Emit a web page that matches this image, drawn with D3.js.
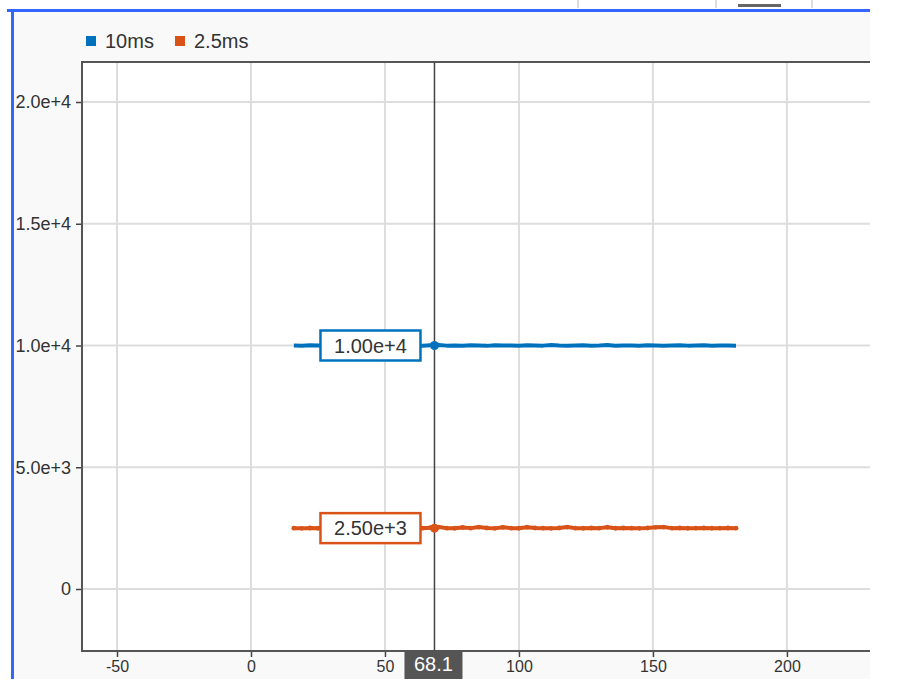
<!DOCTYPE html>
<html>
<head>
<meta charset="utf-8">
<script src="https://cdn.jsdelivr.net/npm/d3@7"></script>
<style>
  body { margin: 0; background: #fff; }
  text { font-family: "Liberation Sans", Arial, sans-serif; }
</style>
</head>
<body>
<div id="chart"></div>
<script>
// sample times (x) shared by both traces
const times = [16, 19, 22, 25, 28, 31, 34, 37, 40, 43, 46, 49, 52, 55, 58, 61, 64, 67, 70, 73,
  76, 79, 82, 85, 88, 91, 94, 97, 100, 103, 106, 109, 112, 115, 118, 121, 124, 127, 130, 133,
  136, 139, 142, 145, 148, 151, 154, 157, 160, 163, 166, 169, 172, 175, 178, 181];

const blueValues = [10000, 9995, 10010, 10005, 9990, 10030, 10000, 9985, 10005, 10010, 9995, 10000,
  10015, 9990, 10005, 10000, 9995, 10010, 10020, 9995, 10005, 9990, 10010, 10000, 9985, 10015,
  10000, 10005, 9990, 10010, 10000, 9995, 10020, 10000, 9990, 10005, 10010, 9995, 10000, 10025,
  9990, 10005, 10000, 9995, 10010, 10000, 9985, 10005, 10015, 9995, 10000, 10010, 9990, 10005,
  10000, 9995];

const orangeValues = [2500, 2490, 2505, 2495, 2510, 2540, 2500, 2495, 2505, 2490, 2500, 2510,
  2495, 2500, 2505, 2490, 2500, 2520, 2545, 2500, 2495, 2530, 2500, 2545, 2505, 2490, 2535,
  2500, 2495, 2540, 2505, 2500, 2490, 2505, 2545, 2500, 2495, 2505, 2500, 2540, 2495, 2505,
  2500, 2490, 2505, 2535, 2545, 2500, 2505, 2495, 2500, 2505, 2495, 2500, 2505, 2500];

const seriesNames = ["10ms", "2.5ms"];
const seriesColors = ["#0072bd", "#d95319"];
const xTicks = [-50, 0, 50, 100, 150, 200];
const yTicks = [0, 5000, 10000, 15000, 20000];
const yTickLabels = ["0", "5.0e+3", "1.0e+4", "1.5e+4", "2.0e+4"];
const cursorX = 68.1;
const cursorLabels = ["1.00e+4", "2.50e+3"];
const cursorValues = [10000, 2500];

const W = 909, H = 694;
const plot = { left: 82, right: 870, top: 62, bottom: 651 };

const svg = d3.select("#chart").append("svg")
  .attr("width", W)
  .attr("height", H);

// bits of the surrounding UI above the panel
svg.selectAll(".topTick")
  .data([578, 716, 812])
  .enter().append("line")
  .attr("x1", d => d).attr("x2", d => d)
  .attr("y1", 0).attr("y2", 8)
  .attr("stroke", "#bbb").attr("stroke-width", 1);
svg.append("rect")
  .attr("x", 738).attr("y", 4).attr("width", 43).attr("height", 3)
  .attr("fill", "#666");

// panel background and blue frame
svg.append("rect")
  .attr("x", 12).attr("y", 10).attr("width", 858).attr("height", 669)
  .attr("fill", "#f9f9f9");
svg.append("rect")
  .attr("x", 7).attr("y", 9).attr("width", 863).attr("height", 3)
  .attr("fill", "#3366ff");
svg.append("rect")
  .attr("x", 11).attr("y", 9).attr("width", 3).attr("height", 670)
  .attr("fill", "#3366ff");

const x = d3.scaleLinear()
  .domain([-63.06, 231])
  .range([plot.left, plot.right]);

const y = d3.scaleLinear()
  .domain([-2546, 21643])
  .range([plot.bottom, plot.top]);

// plot area
svg.append("rect")
  .attr("x", plot.left).attr("y", plot.top)
  .attr("width", plot.right - plot.left).attr("height", plot.bottom - plot.top)
  .attr("fill", "#fff");

// grid
svg.selectAll(".vgrid")
  .data(xTicks)
  .enter().append("line")
  .attr("x1", d => x(d)).attr("x2", d => x(d))
  .attr("y1", plot.top).attr("y2", plot.bottom)
  .attr("stroke", "#ddd").attr("stroke-width", 2);
svg.selectAll(".hgrid")
  .data(yTicks)
  .enter().append("line")
  .attr("x1", plot.left).attr("x2", plot.right)
  .attr("y1", d => y(d)).attr("y2", d => y(d))
  .attr("stroke", "#ddd").attr("stroke-width", 2);

// axes
const xAxis = svg.append("g")
  .attr("transform", `translate(0,${plot.bottom})`)
  .call(d3.axisBottom(x).tickValues(xTicks).tickSize(6).tickPadding(4).tickFormat(d => d));
const yAxis = svg.append("g")
  .attr("transform", `translate(${plot.left},0)`)
  .call(d3.axisLeft(y).tickValues(yTicks).tickSize(6).tickPadding(5)
    .tickFormat((d, i) => yTickLabels[i]));

[xAxis, yAxis].forEach(g => {
  g.select(".domain").remove();
  g.selectAll(".tick line").attr("stroke", "#444").attr("stroke-width", 1.5);
  g.selectAll(".tick text")
    .attr("fill", "#333")
    .style("font-family", "'Liberation Sans', Arial, sans-serif");
});
xAxis.selectAll(".tick text").style("font-size", "16px");
yAxis.selectAll(".tick text").style("font-size", "18px");

// frame of the plot (right side is cut off)
svg.append("path")
  .attr("d", `M${plot.right},${plot.top}H${plot.left}V${plot.bottom}H${plot.right}`)
  .attr("fill", "none")
  .attr("stroke", "#555")
  .attr("stroke-width", 2);

// traces
const allValues = [blueValues, orangeValues];
const line = d3.line()
  .x((d, i) => x(times[i]))
  .y(d => y(d));

allValues.forEach((vals, s) => {
  svg.append("path")
    .datum(vals)
    .attr("d", line)
    .attr("fill", "none")
    .attr("stroke", seriesColors[s])
    .attr("stroke-width", 4)
    .attr("stroke-linejoin", "round");
});

svg.selectAll(".orangeDot")
  .data(orangeValues)
  .enter().append("circle")
  .attr("cx", (d, i) => x(times[i]))
  .attr("cy", d => y(d))
  .attr("r", 2.4)
  .attr("fill", seriesColors[1]);

// cursor
const cx = x(cursorX) + 1;
svg.append("line")
  .attr("x1", cx).attr("x2", cx)
  .attr("y1", plot.top).attr("y2", plot.bottom)
  .attr("stroke", "#444").attr("stroke-width", 1.5);

cursorValues.forEach((v, s) => {
  svg.append("circle")
    .attr("cx", cx).attr("cy", y(v)).attr("r", 4.5)
    .attr("fill", seriesColors[s]);
  svg.append("rect")
    .attr("x", cx - 114).attr("y", y(v) - 15)
    .attr("width", 100).attr("height", 30)
    .attr("fill", "#fff")
    .attr("stroke", seriesColors[s])
    .attr("stroke-width", 2.5);
  svg.append("text")
    .attr("x", cx - 64).attr("y", y(v) + 7)
    .attr("text-anchor", "middle")
    .attr("fill", "#333")
    .style("font-size", "20px")
    .text(cursorLabels[s]);
});

svg.append("rect")
  .attr("x", cx - 30).attr("y", plot.bottom + 1)
  .attr("width", 58).attr("height", 27)
  .attr("fill", "#555");
svg.append("text")
  .attr("x", cx - 1).attr("y", plot.bottom + 20)
  .attr("text-anchor", "middle")
  .attr("fill", "#fff")
  .style("font-size", "20px")
  .text(cursorX.toFixed(1));

// legend
const legend = svg.selectAll(".legend")
  .data(seriesNames)
  .enter().append("g")
  .attr("transform", (d, i) => `translate(${86 + i * 89},36)`);
legend.append("rect")
  .attr("width", 10).attr("height", 10)
  .attr("fill", (d, i) => seriesColors[i]);
legend.append("text")
  .attr("x", 19).attr("y", 12)
  .attr("fill", "#333")
  .style("font-size", "20px")
  .text(d => d);
</script>
</body>
</html>
